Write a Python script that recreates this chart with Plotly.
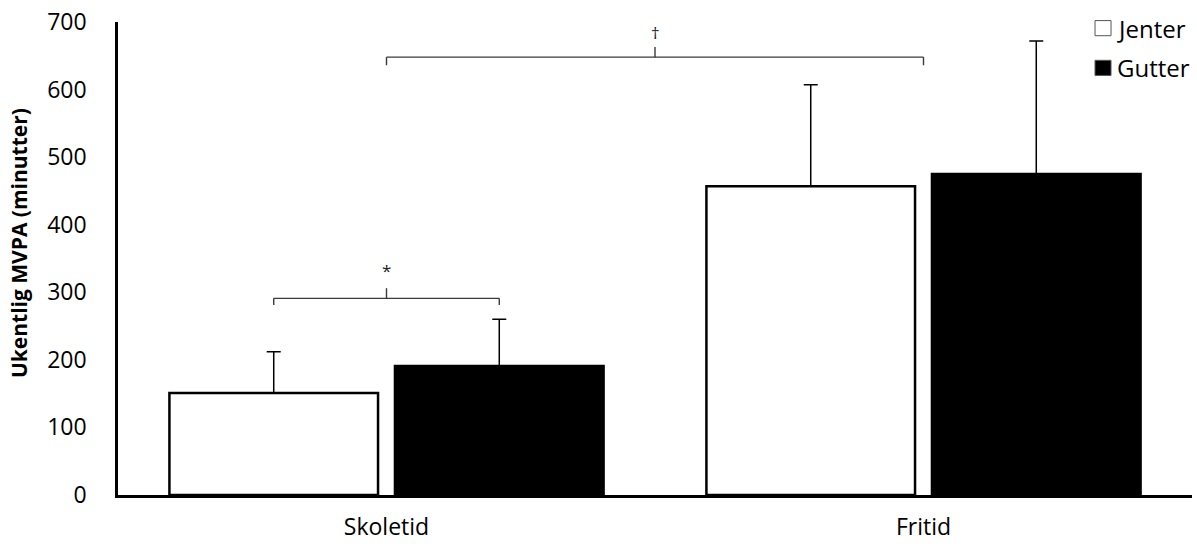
import plotly.graph_objects as go

# Weekly MVPA by setting and sex
categories = ["Skoletid", "Fritid"]
jenter_mean = [151, 457]
jenter_sd = [61, 150]
gutter_mean = [191, 475]
gutter_sd = [69, 197]
y_ticks = [0, 100, 200, 300, 400, 500, 600, 700]

FONT = "Open Sans"
BAR_OFFSET = 0.21  # centre of each bar relative to its category

fig = go.Figure()
fig.add_trace(go.Bar(
    name="Jenter", x=categories, y=jenter_mean,
    marker=dict(color="white", line=dict(color="black", width=2.5)),
    error_y=dict(type="data", symmetric=False, array=jenter_sd,
                 arrayminus=[0] * len(jenter_sd), color="black",
                 thickness=1.5, width=7),
    showlegend=False,
))
fig.add_trace(go.Bar(
    name="Gutter", x=categories, y=gutter_mean,
    marker=dict(color="black", line=dict(color="black", width=2.5)),
    error_y=dict(type="data", symmetric=False, array=gutter_sd,
                 arrayminus=[0] * len(gutter_sd), color="black",
                 thickness=1.5, width=7),
    showlegend=False,
))


def brace(x0, x1, y, drop, rise, symbol, lift):
    """Significance bracket: horizontal line, hooked ends, central pip."""
    col = "#3a3a3a"
    xm = (x0 + x1) / 2
    for (ax, ay, bx, by) in [
        (x0, y, x1, y),
        (x0, y, x0, y - drop),
        (x1, y, x1, y - drop),
        (xm, y, xm, y + rise),
    ]:
        fig.add_shape(type="line", xref="x", yref="y", x0=ax, y0=ay,
                      x1=bx, y1=by, line=dict(color=col, width=1.4))
    fig.add_annotation(x=xm, y=y + rise + lift, xref="x", yref="y",
                       text=symbol, showarrow=False,
                       font=dict(family=FONT, size=17, color="#222"))


# Girls vs boys during school time
brace(0 - BAR_OFFSET, 0 + BAR_OFFSET, 291, 10, 15, "*", 26)
# School time vs leisure time
brace(0, 1, 648, 12, 15, "†", 21)

# Legend drawn as swatches + labels
legend_items = [("Jenter", "white", 0.987), ("Gutter", "black", 0.903)]
for label, fill, yy in legend_items:
    fig.add_shape(type="rect", xref="paper", yref="paper",
                  x0=0.9097, x1=0.9246, y0=yy - 0.016, y1=yy + 0.016,
                  fillcolor=fill, line=dict(color="#555", width=1))
    fig.add_annotation(xref="paper", yref="paper", x=0.9285, y=yy,
                       xanchor="left", yanchor="middle", text=label,
                       showarrow=False,
                       font=dict(family=FONT, size=24, color="black"))

# Y-axis title
fig.add_annotation(xref="paper", yref="paper", x=-0.092, y=0.533,
                   text="<b>Ukentlig MVPA (minutter)</b>", textangle=-90,
                   showarrow=False, xanchor="center", yanchor="middle",
                   font=dict(family=FONT, size=21, color="black"))

fig.update_layout(
    width=1197, height=544,
    margin=dict(l=118, r=5, t=22, b=49, autoexpand=False),
    plot_bgcolor="white", paper_bgcolor="white",
    barmode="group", bargap=0.16, bargroupgap=0.075,
    font=dict(family=FONT, size=24, color="black"),
)
fig.update_xaxes(
    range=[-0.5, 1.5], showline=True, linecolor="black", linewidth=2.5,
    ticks="", showgrid=False, ticklabelstandoff=10, automargin=False,
    tickfont=dict(family=FONT, size=23, color="black"),
)
fig.update_yaxes(
    range=[0, 700], tickvals=y_ticks, showline=True, linecolor="black",
    linewidth=2.5, ticks="", showgrid=False, zeroline=False,
    ticklabelstandoff=24, automargin=False,
    tickfont=dict(family=FONT, size=23, color="black"),
)

fig.write_html("out.html")
